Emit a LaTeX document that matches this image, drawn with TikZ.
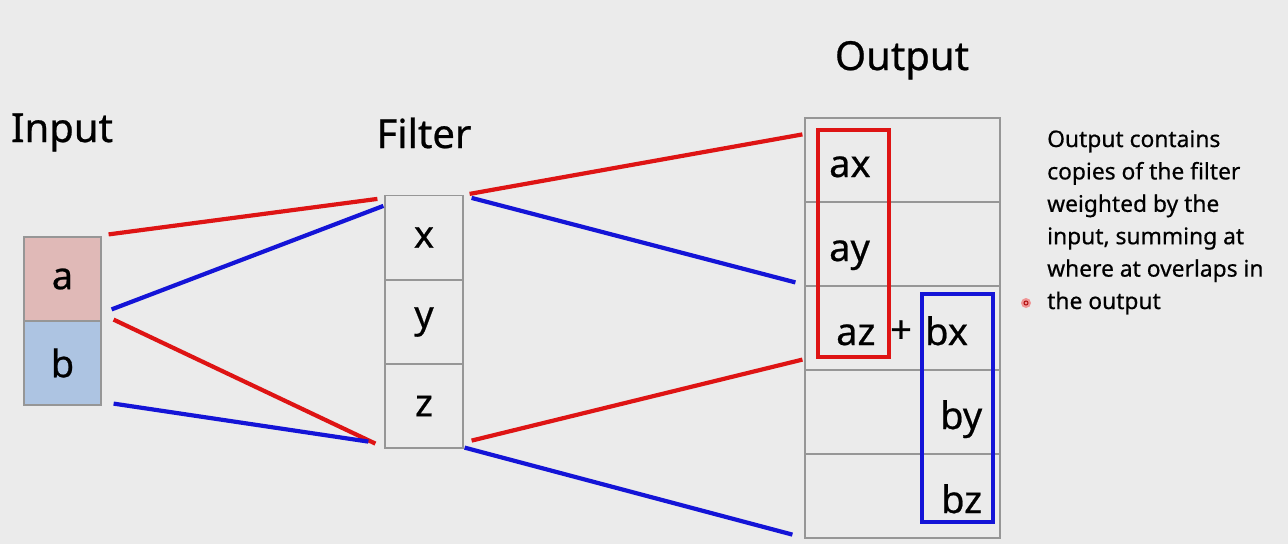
\documentclass[tikz,border=0pt]{standalone}
\usepackage{fontspec}
\setmainfont[FakeBold=0.6]{Noto Sans}
\definecolor{bgc}{RGB}{235,235,235}
\definecolor{cellline}{RGB}{150,150,150}
\definecolor{afill}{RGB}{224,185,183}
\definecolor{bfill}{RGB}{173,196,226}
\definecolor{lred}{RGB}{222,20,20}
\definecolor{lblue}{RGB}{20,20,215}
\begin{document}
\begin{tikzpicture}[x=1pt,y=-1pt,
  cell/.style={draw=cellline,line width=1.2pt,minimum width=78pt,minimum height=84pt,inner sep=0pt,font=\fontsize{38}{40}\selectfont},
  ocell/.style={draw=cellline,line width=1.2pt,minimum width=195pt,minimum height=84pt,inner sep=0pt},
  otext/.style={anchor=base west,inner sep=0pt,font=\fontsize{38}{40}\selectfont},
  title/.style={anchor=base,inner sep=0pt,font=\fontsize{40}{44}\selectfont},
  rline/.style={draw=lred,line width=4.2pt},
  bline/.style={draw=lblue,line width=4.2pt}]
\useasboundingbox (0,0) rectangle (1288,544);
\fill[bgc] (0,0) rectangle (1288,544);
% titles
\node[title] (tin) at (62,142) {Input};
\node[title] (tfi) at (424,148) {Filter};
\node[title] (tout) at (902,70) {Output};
% input
\node[cell,fill=afill,minimum width=77pt] (a) at (62.5,279) {a};
\node[cell,fill=bfill,minimum width=77pt] (b) at (62.5,363) {b};
% filter
\node[cell] (x) at (424,237.5) {x};
\node[cell] (y) at (424,322) {y};
\node[cell] (z) at (424,406) {z};
% output
\node[ocell] (o1) at (902.5,160) {};
\node[ocell] (o2) at (902.5,244) {};
\node[ocell] (o3) at (902.5,328) {};
\node[ocell] (o4) at (902.5,412) {};
\node[ocell] (o5) at (902.5,496) {};
\node[otext] (ax) at (829,177) {ax};
\node[otext] (ay) at (829,261) {ay};
\node[otext] (az) at (836,345) {az};
\node[otext,anchor=base] (plus) at (901,343) {+};
\node[otext] (bx) at (925,345) {bx};
\node[otext] (by) at (940,429) {by};
\node[otext] (bz) at (941,513) {bz};
% highlight boxes
\node[draw=lred,line width=4pt,minimum width=71pt,minimum height=227pt,inner sep=0pt] (redbox) at (853.5,243.5) {};
\node[draw=lblue,line width=4pt,minimum width=71pt,minimum height=228pt,inner sep=0pt] (bluebox) at (957.5,408) {};
% connectors input -> filter
\draw[rline] ([shift={(7,-2)}]a.north east) -- ([shift={(-7,4)}]x.north west);
\draw[bline] ([shift={(10,-11)}]b.north east) -- ([shift={(-1,11)}]x.north west);
\draw[rline] ([shift={(12,-2)}]a.south east) -- ([shift={(-9,-5)}]z.south west);
\draw[bline] ([shift={(12,-2)}]b.south east) -- ([shift={(-16,-7)}]z.south west);
% connectors filter -> output
\draw[rline] ([shift={(6,-1)}]x.north east) -- ([shift={(-2,17)}]o1.north west);
\draw[bline] ([shift={(8,3)}]x.north east) -- ([shift={(-9,-3)}]o3.north west);
\draw[rline] ([shift={(8,-8)}]z.south east) -- ([shift={(-2,-11)}]o3.south west);
\draw[bline] ([shift={(1,-1)}]z.south east) -- ([shift={(-12,-4)}]o5.south west);
% side note
\node[anchor=north west,align=left,inner sep=0pt,font=\fontsize{22.8}{32.4}\selectfont] (note) at (1047,130)
  {Output contains\\copies of the filter\\weighted by the\\input, summing at\\where at overlaps in\\the output};
\fill[lred!45] (1026,303) circle (5pt);
\draw[lred!80!black,line width=1pt] (1026,303) circle (2pt);
\end{tikzpicture}
\end{document}
